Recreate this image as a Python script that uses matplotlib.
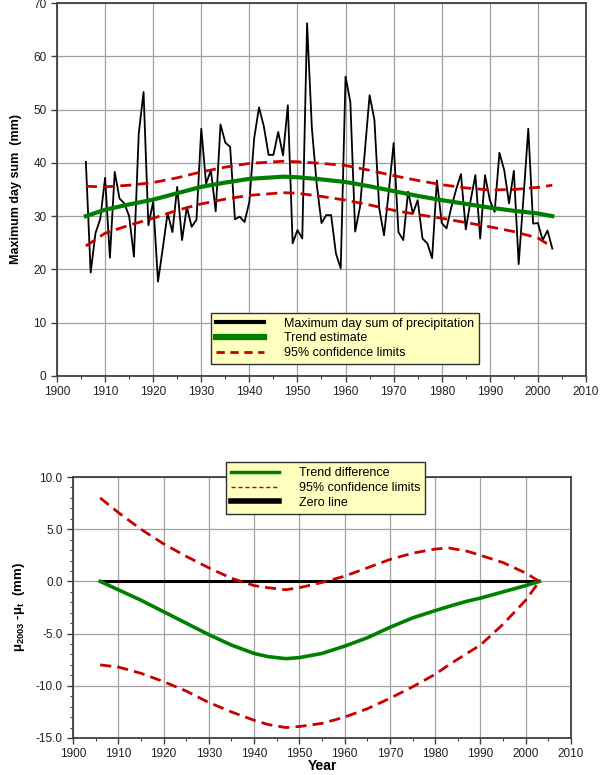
import matplotlib
matplotlib.use("Agg")
import matplotlib.pyplot as plt
from matplotlib.lines import Line2D
from matplotlib.ticker import MultipleLocator, FormatStrFormatter

plt.rcParams['font.family'] = ['Liberation Sans', 'DejaVu Sans']
plt.rcParams['mathtext.fontset'] = 'custom'
plt.rcParams['mathtext.rm'] = 'Liberation Sans:bold'
plt.rcParams['mathtext.it'] = 'Liberation Sans:bold'
plt.rcParams['mathtext.bf'] = 'Liberation Sans:bold'

# annual maximum day sum of precipitation (mm), 1906-2003
years = list(range(1906, 2004))
max_day_sum = [
    40.2, 19.4, 26.8, 29.5, 37.2, 22.2, 38.3, 33.3, 32.4, 30.0,  # 1906-1915
    22.4, 45.5, 53.3, 28.3, 32.7, 17.7, 24.0, 30.6, 27.0, 35.5,  # 1916-1925
    25.5, 31.7, 28.0, 29.3, 46.4, 36.1, 38.6, 30.9, 47.2, 43.8,  # 1926-1935
    43.0, 29.4, 29.9, 28.9, 32.7, 44.6, 50.4, 46.9, 41.5, 41.5,  # 1936-1945
    45.8, 41.4, 50.8, 24.9, 27.4, 25.8, 66.2, 46.5, 36.0, 28.7,  # 1946-1955
    30.2, 30.2, 23.0, 20.2, 56.2, 51.4, 27.1, 31.7, 42.0, 52.7,  # 1956-1965
    48.1, 31.5, 26.4, 34.7, 43.7, 27.0, 25.5, 34.6, 30.5, 33.0,  # 1966-1975
    25.8, 24.9, 22.1, 36.7, 28.7, 27.7, 31.7, 35.0, 37.9, 27.5,  # 1976-1985
    32.9, 37.7, 25.8, 37.7, 33.0, 30.8, 41.9, 38.6, 32.4, 38.5,  # 1986-1995
    21.0, 33.5, 46.4, 28.6, 28.7, 25.5, 27.3, 23.9,              # 1996-2003
]

# trend estimate and 95% confidence limits (mm), read at key years
trend_years = [1906, 1910, 1915, 1920, 1925, 1930, 1935, 1940, 1947, 1950, 1955,
               1960, 1965, 1970, 1975, 1980, 1985, 1990, 1995, 2000, 2003]
trend = [30.0, 31.2, 32.2, 33.1, 34.3, 35.5, 36.3, 37.0, 37.4, 37.3, 36.9,
         36.4, 35.6, 34.7, 33.8, 33.0, 32.3, 31.6, 31.0, 30.5, 30.0]
upper = [35.6, 35.5, 35.8, 36.3, 37.2, 38.3, 39.2, 39.9, 40.3, 40.2, 39.9,
         39.5, 38.6, 37.6, 36.7, 35.9, 35.3, 34.9, 35.0, 35.4, 35.8]
lower = [24.4, 26.8, 28.3, 29.6, 31.1, 32.3, 33.2, 33.9, 34.4, 34.3, 33.7,
         33.0, 32.1, 31.1, 30.3, 29.6, 28.8, 28.0, 27.1, 25.9, 24.2]

# difference mu_2003 - mu_t with confidence limits
diff_years = [1906, 1910, 1915, 1920, 1925, 1930, 1935, 1940, 1943, 1947, 1950, 1955,
              1960, 1965, 1970, 1975, 1980, 1983, 1987, 1990, 1995, 2000, 2003]
diff = [0.0, -0.8, -1.8, -2.9, -4.0, -5.1, -6.1, -6.9, -7.2, -7.4, -7.3, -6.9,
        -6.2, -5.4, -4.4, -3.5, -2.8, -2.4, -1.9, -1.6, -1.0, -0.4, 0.0]
diff_up = [8.0, 6.6, 5.0, 3.6, 2.4, 1.3, 0.3, -0.4, -0.6, -0.8, -0.6, -0.1,
           0.5, 1.3, 2.1, 2.7, 3.1, 3.2, 2.9, 2.5, 1.8, 0.8, 0.0]
diff_lo = [-8.0, -8.2, -8.8, -9.6, -10.5, -11.6, -12.5, -13.3, -13.7, -14.0, -13.9, -13.6,
           -13.0, -12.2, -11.2, -10.1, -8.9, -8.0, -6.9, -6.1, -4.1, -1.8, 0.0]

GREEN = '#008000'
RED = '#c80000'
LEG_BG = '#ffffc0'
dash = (0, (4, 2.2))

fig = plt.figure(figsize=(6.02, 7.75), dpi=100)
ax1 = fig.add_axes([57/602, 1-376/775, (586-57)/602, (376-3)/775])
ax2 = fig.add_axes([73/602, 1-738/775, (571-73)/602, (738-477)/775])


def style_axes(ax):
    ax.grid(True, which='major', color='#a0a0a0', linewidth=0.9)
    ax.set_axisbelow(True)
    for s in ax.spines.values():
        s.set_color('#404040')
        s.set_linewidth(1.3)
    ax.tick_params(which='major', direction='out', length=4, width=1, color='#404040',
                   labelsize=8.5, labelcolor='#202020')
    ax.tick_params(which='minor', direction='out', length=2.5, width=0.8, color='#404040')
    ax.set_xlim(1900, 2010)
    ax.xaxis.set_major_locator(MultipleLocator(10))
    ax.xaxis.set_minor_locator(MultipleLocator(5))


# top chart
style_axes(ax1)
ax1.plot(years, max_day_sum, color='black', linewidth=1.3, zorder=3)
ax1.plot(trend_years, trend, color=GREEN, linewidth=3.0, zorder=4)
ax1.plot(trend_years, upper, color=RED, linewidth=2.0, linestyle=dash, zorder=4)
ax1.plot(trend_years, lower, color=RED, linewidth=2.0, linestyle=dash, zorder=4)
ax1.set_ylim(0, 70)
ax1.yaxis.set_major_locator(MultipleLocator(10))
ax1.set_ylabel('Maximum day sum  (mm)', fontsize=9, fontweight='bold', labelpad=8)

h1 = [Line2D([], [], color='black', linewidth=3),
      Line2D([], [], color=GREEN, linewidth=4.5),
      Line2D([], [], color=RED, linewidth=2, linestyle=(0, (3, 2)))]
leg1 = ax1.legend(h1, ['Maximum day sum of precipitation', 'Trend estimate', '95% confidence limits'],
                  loc='lower left', bbox_to_anchor=(0.28, 0.015), fontsize=9, frameon=True,
                  fancybox=False, framealpha=1, facecolor=LEG_BG, edgecolor='#303030',
                  handlelength=3.8, handletextpad=1.6, borderpad=0.4, labelspacing=0.22)
leg1.get_frame().set_linewidth(1.0)

# bottom chart
style_axes(ax2)
ax2.plot(diff_years, diff, color=GREEN, linewidth=2.6, zorder=4)
ax2.plot(diff_years, diff_up, color=RED, linewidth=2.0, linestyle=dash, zorder=4)
ax2.plot(diff_years, diff_lo, color=RED, linewidth=2.0, linestyle=dash, zorder=4)
ax2.plot([years[0], years[-1]], [0, 0], color='black', linewidth=2.2, zorder=3)
ax2.set_ylim(-15, 10)
ax2.yaxis.set_major_locator(MultipleLocator(5))
ax2.yaxis.set_minor_locator(MultipleLocator(1))
ax2.yaxis.set_major_formatter(FormatStrFormatter('%.1f'))
ax2.set_ylabel(r'$\mu_{2003}$ -$\mu_{t}$  (mm)', fontsize=9.5, fontweight='bold', labelpad=6)
fig.text((73 + 571) / 2 / 602, 1 - 766 / 775, 'Year', fontsize=10, fontweight='bold',
         ha='center', va='center')

h2 = [Line2D([], [], color=GREEN, linewidth=2.5),
      Line2D([], [], color=RED, linewidth=1.0, linestyle=(0, (3, 2))),
      Line2D([], [], color='black', linewidth=4)]
leg2 = ax2.legend(h2, ['Trend difference', '95% confidence limits', 'Zero line'],
                  loc='upper left', bbox_to_anchor=(0.295, 1.08), fontsize=9, frameon=True,
                  fancybox=False, framealpha=1, facecolor=LEG_BG, edgecolor='#303030',
                  handlelength=3.8, handletextpad=1.6, borderpad=0.4, labelspacing=0.22)
leg2.get_frame().set_linewidth(1.0)
leg2.set_zorder(10)

fig.savefig('out.png', dpi=100)
